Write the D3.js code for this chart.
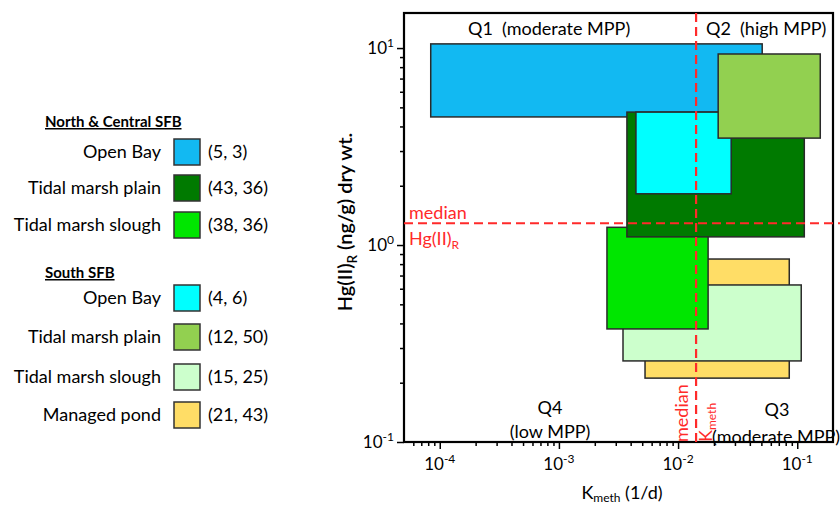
<!DOCTYPE html>
<html>
<head>
<meta charset="utf-8">
<script src="https://cdn.jsdelivr.net/npm/d3@7"></script>
<style>
  body { margin: 0; background: #fff; }
  svg { display: block; font-family: Lato, "Open Sans", sans-serif; }
  text { white-space: pre; }
</style>
</head>
<body>
<svg width="840" height="508"></svg>
<script>
// legend groups
let groupNames = ["North & Central SFB", "South SFB"]
let habitats = ["Open Bay", "Tidal marsh plain", "Tidal marsh slough", "Open Bay", "Tidal marsh plain", "Tidal marsh slough", "Managed pond"]
let counts = ["(5, 3)", "(43, 36)", "(38, 36)", "(4, 6)", "(12, 50)", "(15, 25)", "(21, 43)"]
let colors = ["#12B9F2", "#007A00", "#00E600", "#00FFFF", "#92D050", "#CCFFCC", "#FFDD66"]

// box extents, Kmeth (1/d) and Hg(II)R (ng/g)
let kLow  = [8.4e-5, 0.00372, 0.00253, 0.00443, 0.0217, 0.00345, 0.00528]
let kHigh = [0.0508, 0.1146, 0.01786, 0.0279, 0.156, 0.108, 0.0857]
let hgLow  = [4.47, 1.10, 0.375, 1.82, 3.49, 0.258, 0.211]
let hgHigh = [10.5, 4.73, 1.23, 4.73, 9.33, 0.627, 0.849]
let drawOrder = [0, 6, 5, 2, 1, 3, 4]

let medianK = 0.01416
let medianHg = 1.29

let xTicks = [1e-4, 1e-3, 1e-2, 1e-1]
let xTickExp = ["-4", "-3", "-2", "-1"]
let yTicks = [10, 1, 0.1]
let yTickExp = ["1", "0", "-1"]

let pLeft = 404, pRight = 833, pTop = 13, pBottom = 442
let red = "#FF2A2A"

let svg = d3.select("svg")

let xScale = d3.scaleLog().domain([Math.pow(10, -4.3), Math.pow(10, -0.7)]).range([pLeft, pRight])
let yScale = d3.scaleLog().domain([0.1, Math.pow(10, 1.178)]).range([pBottom, pTop])

let minorX = []
for (let e = -5; e <= -1; e++) for (let m = 2; m <= 9; m++) {
  let v = m * Math.pow(10, e)
  if (v >= xScale.domain()[0] && v <= xScale.domain()[1]) minorX.push(v)
}
let minorY = []
for (let e = -1; e <= 1; e++) for (let m = 2; m <= 9; m++) {
  let v = m * Math.pow(10, e)
  if (v >= yScale.domain()[0] && v <= yScale.domain()[1]) minorY.push(v)
}

// boxes
svg.selectAll("rect.box")
   .data(drawOrder)
   .enter()
   .append("rect")
   .attr("class", "box")
   .attr("x", (i) => xScale(kLow[i]))
   .attr("y", (i) => yScale(hgHigh[i]))
   .attr("width", (i) => xScale(kHigh[i]) - xScale(kLow[i]))
   .attr("height", (i) => yScale(hgLow[i]) - yScale(hgHigh[i]))
   .attr("fill", (i) => colors[i])
   .attr("stroke", "#2a2a2a")
   .attr("stroke-width", 1.5)

// axes
let axisStyle = (g) => {
  g.select(".domain").remove()
  g.selectAll("line").attr("stroke", "#000").attr("stroke-width", 1.5)
}
svg.append("g").attr("transform", "translate(0," + pBottom + ")")
   .call(d3.axisBottom(xScale).tickValues(minorX).tickSize(4).tickFormat(""))
   .call(axisStyle)
svg.append("g").attr("transform", "translate(0," + pBottom + ")")
   .call(d3.axisBottom(xScale).tickValues(xTicks).tickSize(7).tickFormat(""))
   .call(axisStyle)
svg.append("g").attr("transform", "translate(" + pLeft + ",0)")
   .call(d3.axisLeft(yScale).tickValues(minorY).tickSize(4).tickFormat(""))
   .call(axisStyle)
svg.append("g").attr("transform", "translate(" + pLeft + ",0)")
   .call(d3.axisLeft(yScale).tickValues(yTicks).tickSize(7).tickFormat(""))
   .call(axisStyle)

// frame
svg.append("rect")
   .attr("x", pLeft).attr("y", pTop)
   .attr("width", pRight - pLeft).attr("height", pBottom - pTop)
   .attr("fill", "none").attr("stroke", "#000").attr("stroke-width", 2.2)

// tick labels
let xl = svg.selectAll("text.xtick").data(xTicks).enter().append("text")
   .attr("class", "xtick")
   .attr("x", (d) => xScale(d))
   .attr("y", 470)
   .attr("text-anchor", "middle")
   .attr("font-size", 17)
xl.append("tspan").text("10")
xl.append("tspan").attr("dy", -7).attr("font-size", 12).text((d, i) => xTickExp[i])

let yl = svg.selectAll("text.ytick").data(yTicks).enter().append("text")
   .attr("class", "ytick")
   .attr("x", 394)
   .attr("y", (d) => yScale(d) + 6)
   .attr("text-anchor", "end")
   .attr("font-size", 17)
yl.append("tspan").text("10")
yl.append("tspan").attr("dy", -7).attr("font-size", 12).text((d, i) => yTickExp[i])

// median lines
svg.append("line")
   .attr("x1", pLeft).attr("x2", 840)
   .attr("y1", yScale(medianHg)).attr("y2", yScale(medianHg))
   .attr("stroke", red).attr("stroke-width", 2.2).attr("stroke-dasharray", "9,5")
svg.append("line")
   .attr("x1", xScale(medianK)).attr("x2", xScale(medianK))
   .attr("y1", pTop).attr("y2", pBottom)
   .attr("stroke", red).attr("stroke-width", 2.2).attr("stroke-dasharray", "9,5")

svg.append("text").attr("x", 409).attr("y", 219)
   .attr("fill", red).attr("font-size", 18).text("median")
let hgT = svg.append("text").attr("x", 409).attr("y", 245)
   .attr("fill", red).attr("font-size", 18)
hgT.append("tspan").text("Hg(II)")
hgT.append("tspan").attr("dy", 4).attr("font-size", 12).text("R")

svg.append("text")
   .attr("transform", "translate(688," + pBottom + ") rotate(-90)")
   .attr("fill", red).attr("font-size", 18).text("median")
let kT = svg.append("text")
   .attr("transform", "translate(712," + pBottom + ") rotate(-90)")
   .attr("fill", red).attr("font-size", 18)
kT.append("tspan").text("K")
kT.append("tspan").attr("dy", 4).attr("font-size", 12).text("meth")

// quadrant labels
let quad = (txt, x, y, anchor) => svg.append("text").attr("x", x).attr("y", y)
   .attr("text-anchor", anchor).attr("font-size", 18).attr("fill", "#000").text(txt)
quad("Q1  (moderate MPP)", 468, 35, "start")
quad("Q2  (high MPP)", 706, 35, "start")
quad("Q4", 550, 414, "middle")
quad("(low MPP)", 550, 438, "middle")
quad("Q3", 777, 416, "middle")
quad("(moderate MPP)", 712, 443, "start")

// axis titles
let yt = svg.append("text")
   .attr("transform", "translate(352,222) rotate(-90)")
   .attr("text-anchor", "middle").attr("font-size", 20).attr("font-weight", 600)
yt.append("tspan").text("Hg(II)")
yt.append("tspan").attr("dy", 5).attr("font-size", 13).text("R")
yt.append("tspan").attr("dy", -5).text(" (ng/g) dry wt.")

let xt = svg.append("text").attr("x", 622).attr("y", 499)
   .attr("text-anchor", "middle").attr("font-size", 18)
xt.append("tspan").text("K")
xt.append("tspan").attr("dy", 3).attr("font-size", 12).text("meth")
xt.append("tspan").attr("dy", -3).text(" (1/d)")

// legend
let headerY = [122, 273]
svg.selectAll("text.header").data(groupNames).enter().append("text")
   .attr("class", "header")
   .attr("x", 45).attr("y", (d, i) => headerY[i] + 5)
   .attr("font-size", 15).attr("font-weight", 700)
   .attr("text-decoration", "underline").attr("fill", "#000")
   .text((d) => d)

let rowY = [152, 188, 225, 298, 337, 377, 415]
let rows = svg.selectAll("g.leg").data(habitats).enter().append("g")
   .attr("class", "leg")
   .attr("transform", (d, i) => "translate(0," + rowY[i] + ")")
rows.append("text").attr("x", 161).attr("y", 6)
   .attr("text-anchor", "end").attr("font-size", 18).attr("fill", "#000")
   .text((d) => d)
rows.append("rect").attr("x", 174).attr("y", -13).attr("width", 26).attr("height", 26)
   .attr("fill", (d, i) => colors[i]).attr("stroke", "#333").attr("stroke-width", 1.5)
rows.append("text").attr("x", 208).attr("y", 6)
   .attr("font-size", 18).attr("fill", "#000")
   .text((d, i) => counts[i])
</script>
</body>
</html>
